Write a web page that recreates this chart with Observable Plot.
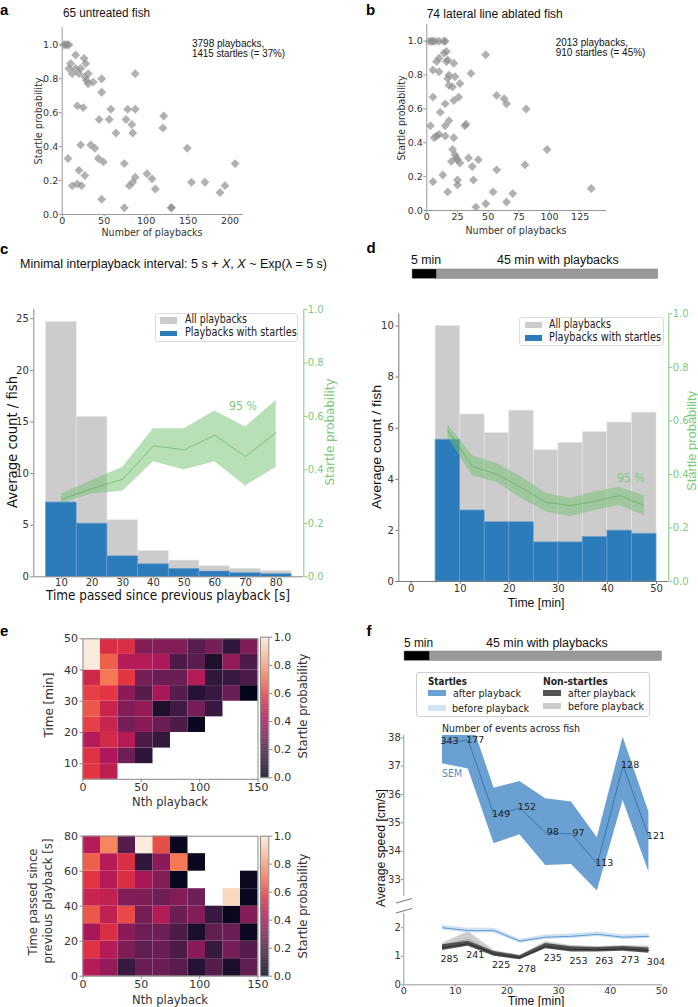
<!DOCTYPE html>
<html><head><meta charset="utf-8">
<script src="https://cdn.jsdelivr.net/npm/d3@7"></script>
<script src="https://cdn.jsdelivr.net/npm/@observablehq/plot@0.6"></script>
<style>
body{margin:0;background:#fff;}
#fig{position:relative;width:698px;height:1007px;overflow:hidden;background:#fff;}
#fig > svg{position:absolute;overflow:visible;}
.t{position:absolute;white-space:nowrap;line-height:1;transform-origin:0 0;}
.bx{position:absolute;box-sizing:border-box;}
</style></head><body><div id="fig"></div>
<script>
// ---------------- DATA ----------------
// a: untreated fish
const aPlaybacks = [2,4,6,8,7,8,10,12,12,16,16,18,18,20,20,22,22,23,25,26,27,27,28,29,31,31,34,37,39,43,44,47,47,47,49,56,58,64,74,74,76,78,80,83,84,84,87,87,87,101,107,111,120,121,130,130,149,154,170,188,194,206];
const aProb = [1,1,1,1,0.33,0.86,0.89,0.83,0.17,0.94,0.86,0.64,0.18,0.83,0.26,0.86,0.41,0.17,0.63,0.92,0.81,0.23,0.89,0.79,0.83,0.77,0.41,0.78,0.39,0.33,0.56,0.80,0.72,0.09,0.31,0.56,0.62,0.48,0.30,0.04,0.56,0.62,0.17,0.53,0.48,0.19,0.62,0.83,0.22,0.24,0.21,0.15,0.51,0.58,0.04,0.04,0.39,0.19,0.19,0.13,0.17,0.30];
// b: lateral line ablated fish
const bPlaybacks = [2,4,5,7,10,14,15,14,16,16,17,8,10,5,10,22,48,36,18,23,17,27,18,21,5,26,22,57,63,65,81,15,11,18,3,15,31,32,6,8,10,15,22,21,23,24,25,27,20,34,42,37,57,98,80,13,5,25,38,25,17,54,70,134,40,48,65];
const bProb = [1,1,1,1,1,1,1,0.93,0.94,0.88,0.89,0.88,0.90,0.83,0.82,0.87,0.92,0.81,0.80,0.79,0.78,0.75,0.74,0.73,0.67,0.67,0.65,0.68,0.66,0.63,0.60,0.63,0.58,0.53,0.50,0.50,0.50,0.51,0.43,0.44,0.45,0.44,0.43,0.36,0.33,0.31,0.30,0.28,0.29,0.31,0.30,0.26,0.24,0.36,0.27,0.21,0.17,0.18,0.18,0.15,0.11,0.11,0.10,0.13,0.02,0.04,0.05];
const probTicks = [0,0.2,0.4,0.6,0.8,1.0];
const aXTicks = [0,50,100,150,200];
const bXTicks = [0,25,50,75,100,125];
// c: time since previous playback
const cBinLo = [5,15,25,35,45,55,65,75];
const cBinHi = [15,25,35,45,55,65,75,85];
const cAll = [24.7,15.5,5.48,2.5,1.57,1.02,0.77,0.54];
const cStartle = [7.2,5.15,1.98,1.21,0.77,0.51,0.35,0.25];
const cCenter = [10,20,30,40,50,60,70,80];
const cProbMean = [0.29,0.33,0.365,0.49,0.475,0.53,0.45,0.54];
const cProbLo = [0.275,0.31,0.32,0.43,0.40,0.43,0.34,0.41];
const cProbHi = [0.31,0.36,0.41,0.554,0.554,0.62,0.56,0.66];
const cYTicks = [0,5,10,15,20,25];
const cXTicks = [10,20,30,40,50,60,70,80];
// d: time in experiment
const dBinLo = [5,10,15,20,25,30,35,40,45];
const dBinHi = [10,15,20,25,30,35,40,45,50];
const dAll = [10.0,6.54,5.81,6.69,5.14,5.43,5.85,6.22,6.61];
const dStartle = [5.55,2.78,2.32,2.32,1.53,1.53,1.74,1.99,1.87];
const dCenter = [7.5,12.5,17.5,22.5,27.5,32.5,37.5,42.5,47.5];
const dProbMean = [0.564,0.43,0.40,0.35,0.296,0.284,0.30,0.321,0.284];
const dProbLo = [0.54,0.395,0.37,0.31,0.26,0.243,0.265,0.284,0.246];
const dProbHi = [0.586,0.47,0.44,0.39,0.33,0.31,0.335,0.352,0.32];
const dYTicks = [0,2,4,6,8,10];
const dXTicks = [0,10,20,30,40,50];
// timeline
const timelineStart = [0,5];
const timelineEnd = [5,50];
const timelineColor = ["#000000","#999999"];
// e: heatmaps (rows bottom->top, columns = Nth playback bins)
const eNthLo = [0,15,30,45,60,75,90,105,120,135];
const eTimeLo = [5,10,15,20,25,30,35,40,45];
const eTimeValues = [
  [0.58,0.47,null,null,null,null,null,null,null,null],
  [0.57,0.43,0.28,0.12,null,null,null,null,null,null],
  [0.45,0.53,0.45,0.20,0.14,null,null,null,null,null],
  [0.60,0.50,0.30,0.35,0.27,0.20,0.02,null,null,null],
  [0.65,0.50,0.33,0.37,0.08,0.17,0.30,0.15,null,null],
  [0.60,0.58,0.35,0.22,0.42,0.22,0.10,0.15,0.27,0.00],
  [0.52,0.72,0.58,0.30,0.27,0.27,0.45,0.13,0.15,0.20],
  [1.00,0.67,0.45,0.45,0.43,0.20,0.23,0.08,0.37,0.20],
  [1.00,0.55,0.55,0.33,0.33,0.33,0.23,0.30,0.13,0.32]
];
const eGapLo = [0,10,20,30,40,50,60,70];
const eGapValues = [
  [0.45,0.37,0.15,0.27,0.27,0.23,0.10,0.22,0.07,0.25],
  [0.57,0.45,0.32,0.25,0.27,0.20,0.35,0.15,0.30,0.22],
  [0.42,0.55,0.35,0.28,0.28,0.20,0.07,0.25,0.27,0.03],
  [0.65,0.48,0.62,0.30,0.45,0.27,0.33,0.15,0.02,0.33],
  [0.50,0.48,0.33,0.32,0.28,0.33,0.28,null,0.95,0.02],
  [0.58,0.45,0.55,0.42,0.33,0.02,null,null,null,0.03],
  [0.67,0.45,0.55,0.13,0.35,0.72,0.02,null,null,null],
  [0.45,0.75,0.22,1.00,0.63,0.02,null,null,null,null]
];
const eNthTicks = [0,50,100,150];
const eTimeTicks = [10,20,30,40,50];
const eGapTicks = [0,20,40,60,80];
const cbTicks = [0,0.2,0.4,0.6,0.8,1.0];
// f: speed
const fTime = [7.5,12.5,17.5,22.5,27.5,32.5,37.5,42.5,47.5];
const fStartAfterMean = [37.85,37.9,35.26,35.52,34.64,34.61,33.55,37.02,34.5];
const fStartAfterLo = [37.08,36.9,34.26,34.58,33.49,33.53,32.59,35.79,33.26];
const fStartAfterHi = [38.6,38.9,36.22,36.46,35.85,35.73,34.47,38.02,35.38];
const fStartAfterN = [343,177,149,152,98,97,113,128,121];
const fStartBeforeMean = [2.0,1.9,1.9,1.53,1.67,1.7,1.77,1.67,1.7];
const fStartBeforeLo = [1.92,1.82,1.82,1.46,1.59,1.62,1.69,1.59,1.62];
const fStartBeforeHi = [2.08,1.98,1.98,1.60,1.75,1.78,1.85,1.75,1.78];
const fNonAfterMean = [1.3,1.44,1.09,0.95,1.35,1.24,1.23,1.26,1.2];
const fNonAfterLo = [1.2,1.35,1.0,0.88,1.26,1.15,1.15,1.18,1.11];
const fNonAfterHi = [1.4,1.53,1.17,1.02,1.45,1.33,1.31,1.34,1.29];
const fNonAfterN = [285,241,225,278,235,253,263,273,304];
const fNonBeforeMean = [1.38,1.6,1.12,0.97,1.42,1.3,1.26,1.3,1.28];
const fNonBeforeLo = [1.3,1.4,1.04,0.9,1.33,1.22,1.18,1.22,1.2];
const fNonBeforeHi = [1.46,1.86,1.2,1.04,1.51,1.38,1.34,1.38,1.36];
const fUpperTicks = [33,34,35,36,37,38];
const fLowerTicks = [0,1,2];
const fXTicks = [0,10,20,30,40,50];

// ---------------- HELPERS ----------------
const fig = document.getElementById("fig");
const put = (svg, left, top) => { svg.style.left = left + "px"; svg.style.top = top + "px"; fig.appendChild(svg); };
const ctx = document.createElement("canvas").getContext("2d");
function txt(html, x, y, o = {}) {
  const size = o.size || 11, fam = o.family || "DejaVu Sans";
  const el = document.createElement("div");
  el.className = "t";
  el.innerHTML = html;
  const font = `${o.style || "normal"} ${o.weight || "normal"} ${size}px ${fam}`;
  el.style.font = font;
  el.style.lineHeight = "1";
  el.style.color = o.color || "#222";
  el.style.left = x + "px"; el.style.top = y + "px";
  ctx.font = font;
  const m = ctx.measureText(el.textContent).width;
  const sx = o.width ? o.width / m : 1;
  const w = o.width || m;
  const frac = o.anchor === "middle" ? 0.5 : o.anchor === "end" ? 1 : 0;
  el.style.transform = `rotate(${o.rotate || 0}deg) translate(${-w * frac}px, ${-size / 2}px) scale(${sx},1)`;
  fig.appendChild(el);
}
function rect(x, y, w, h, css) {
  const el = document.createElement("div");
  el.className = "bx";
  el.style.left = x + "px"; el.style.top = y + "px"; el.style.width = w + "px"; el.style.height = h + "px";
  Object.assign(el.style, css);
  fig.appendChild(el);
}
const st = (size) => ({background: "transparent", fontFamily: "DejaVu Sans", fontSize: size + "px", color: "#333", overflow: "visible"});
const AX = "#999";
const GREEN = "#7dc97d";
const f1 = d3.format(".1f");
const fd = d3.format("d");
const rocket = d3.piecewise(d3.interpolateRgb, ["#03051a", "#35193e", "#701f57", "#ad1759", "#e13342", "#f37651", "#f6b48f", "#faebdd"]);

// ---------------- PANEL a ----------------
const aTable = aPlaybacks.map((n, i) => ({n, p: aProb[i]}));
put(Plot.plot({
  width: 260, height: 240, marginLeft: 61.7, marginRight: 17, marginTop: 27.3, marginBottom: 26,
  style: st(9.5), x: {domain: [0, 216]}, y: {domain: [0, 1.1]},
  marks: [
    Plot.dot(aTable, {x: "n", y: "p", symbol: "diamond2", r: 4, fill: "#8c8c8c", fillOpacity: 0.68, stroke: "none"}),
    Plot.ruleX([0], {stroke: AX}), Plot.ruleY([0], {stroke: AX}),
    Plot.axisX({ticks: aXTicks, tickSize: 2.5, tickPadding: 0, label: null, stroke: AX, fill: "#333"}),
    Plot.axisY({ticks: probTicks, tickFormat: f1, tickSize: 3, tickPadding: 1, label: null, stroke: AX, fill: "#333"})
  ]
}), 0, 0);
txt("a", 0, 8.5, {size: 15, family: "Liberation Sans", weight: "bold", color: "#000"});
txt("65 untreated fish", 63.3, 12.5, {size: 12, family: "Liberation Sans", color: "#111", width: 87});
txt("3798 playbacks,", 192, 44, {size: 10, family: "Liberation Sans", color: "#111"});
txt("1415 startles (= 37%)", 192, 54, {size: 10, family: "Liberation Sans", color: "#111", width: 93});
txt("Startle probability", 38, 120.5, {size: 11, anchor: "middle", rotate: -90, width: 87, color: "#333"});
txt("Number of playbacks", 152, 231.5, {size: 10.5, anchor: "middle", width: 101, color: "#333"});

// ---------------- PANEL b ----------------
const bTable = bPlaybacks.map((n, i) => ({n, p: bProb[i]}));
put(Plot.plot({
  width: 260, height: 240, marginLeft: 77.3, marginRight: 260 - 257.3, marginTop: 23.8, marginBottom: 30,
  style: st(9.5), x: {domain: [0, 146.7]}, y: {domain: [0, 1.1]},
  marks: [
    Plot.dot(bTable, {x: "n", y: "p", symbol: "diamond2", r: 4, fill: "#8c8c8c", fillOpacity: 0.68, stroke: "none"}),
    Plot.ruleX([0], {stroke: AX}), Plot.ruleY([0], {stroke: AX}),
    Plot.axisX({ticks: bXTicks, tickSize: 2.5, tickPadding: 0, label: null, stroke: AX, fill: "#333"}),
    Plot.axisY({ticks: probTicks, tickFormat: f1, tickSize: 3, tickPadding: 1, label: null, stroke: AX, fill: "#333"})
  ]
}), 349, 0);
txt("b", 366, 8.5, {size: 15, family: "Liberation Sans", weight: "bold", color: "#000"});
txt("74 lateral line ablated fish", 426.7, 13.8, {size: 12, family: "Liberation Sans", color: "#111"});
txt("2013 playbacks,", 555.7, 43.3, {size: 10, family: "Liberation Sans", color: "#111"});
txt("910 startles (= 45%)", 555.7, 53.3, {size: 10, family: "Liberation Sans", color: "#111"});
txt("Startle probability", 400.7, 117.5, {size: 11, anchor: "middle", rotate: -90, width: 85, color: "#333"});
txt("Number of playbacks", 516, 229.5, {size: 10.5, anchor: "middle", width: 101, color: "#333"});

// ---------------- PANEL c ----------------
const cTable = cBinLo.map((lo, i) => ({lo, hi: cBinHi[i], all: cAll[i], st: cStartle[i]}));
const cProb = cCenter.map((t, i) => ({t, m: cProbMean[i], lo: cProbLo[i], hi: cProbHi[i]}));
const cDims = {width: 345, height: 310, marginLeft: 33.3, marginRight: 41.7, marginTop: 19, marginBottom: 23.7};
put(Plot.plot({
  ...cDims, style: st(10), x: {domain: [1, 89]}, y: {domain: [0, 25.9]},
  marks: [
    Plot.rect(cTable, {x1: "lo", x2: "hi", y1: 0, y2: "all", fill: "#cccccc", stroke: "#e6e6e6", strokeWidth: 0.7}),
    Plot.rect(cTable, {x1: "lo", x2: "hi", y1: 0, y2: "st", fill: "#2c7bba", stroke: "#6a9fcc", strokeWidth: 0.7}),
    Plot.ruleX([1], {stroke: "#888"}), Plot.ruleY([0], {stroke: "#888"}),
    Plot.axisX({ticks: cXTicks, tickSize: 2.5, tickPadding: 0, label: null, stroke: "#888", fill: "#333"}),
    Plot.axisY({ticks: cYTicks, tickSize: 3, tickPadding: 2, label: null, stroke: "#888", fill: "#333"})
  ]
}), 0, 290);
put(Plot.plot({
  ...cDims, style: st(10), x: {domain: [1, 89], axis: null}, y: {domain: [0, 1]},
  marks: [
    Plot.areaY(cProb, {x: "t", y1: "lo", y2: "hi", fill: "#6fc16f", fillOpacity: 0.5}),
    Plot.lineY(cProb, {x: "t", y: "m", stroke: "#4fa64f", strokeOpacity: 0.7, strokeWidth: 0.8}),
    Plot.ruleX([89], {stroke: GREEN}),
    Plot.axisY({anchor: "right", ticks: probTicks, tickFormat: f1, tickSize: 3, tickPadding: 1, label: null, color: GREEN})
  ]
}), 0, 290);
txt("c", 0, 248.3, {size: 15, family: "Liberation Sans", weight: "bold", color: "#000"});
txt("Minimal interplayback interval: 5 s + <i>X</i>, <i>X</i> ~ Exp(λ = 5 s)", 20, 263.3, {size: 13, family: "Liberation Sans", color: "#111", width: 307});
txt("Average count / fish", 12, 442, {size: 14, anchor: "middle", rotate: -90, width: 132, color: "#111"});
txt("Startle probability", 329, 431.5, {size: 13, anchor: "middle", rotate: -90, width: 107, color: GREEN});
txt("Time passed since previous playback [s]", 168, 595.8, {size: 13.5, anchor: "middle", width: 244, color: "#111"});
txt("95 %", 243, 406, {size: 12, anchor: "middle", width: 28, color: GREEN});
rect(155, 313, 143, 29, {border: "1px solid #dcdcdc", borderRadius: "3px", background: "rgba(255,255,255,0.85)"});
rect(160, 317, 17, 6.5, {background: "#cccccc"});
rect(160, 330.5, 17, 5.5, {background: "#2c7bba"});
txt("All playbacks", 185, 320, {size: 11.5, color: "#222", width: 62});
txt("Playbacks with startles", 185, 333.3, {size: 11.5, color: "#222", width: 111.7});

// ---------------- PANEL d ----------------
const dTable = dBinLo.map((lo, i) => ({lo, hi: dBinHi[i], all: dAll[i], st: dStartle[i]}));
const dProb = dCenter.map((t, i) => ({t, m: dProbMean[i], lo: dProbLo[i], hi: dProbHi[i]}));
const dDims = {width: 349, height: 310, marginLeft: 49.3, marginRight: 29.7, marginTop: 18.3, marginBottom: 24};
put(Plot.plot({
  ...dDims, style: st(10), x: {domain: [-2.5, 52.5]}, y: {domain: [0, 10.48]},
  marks: [
    Plot.rect(dTable, {x1: "lo", x2: "hi", y1: 0, y2: "all", fill: "#cccccc", stroke: "#e6e6e6", strokeWidth: 0.7}),
    Plot.rect(dTable, {x1: "lo", x2: "hi", y1: 0, y2: "st", fill: "#2c7bba", stroke: "#6a9fcc", strokeWidth: 0.7}),
    Plot.ruleX([-2.5], {stroke: "#777"}), Plot.ruleY([0], {stroke: "#777"}),
    Plot.axisX({ticks: dXTicks, tickSize: 3, tickPadding: 0, label: null, stroke: "#777", fill: "#333"}),
    Plot.axisY({ticks: dYTicks, tickSize: 3, tickPadding: 2, label: null, stroke: "#777", fill: "#333"})
  ]
}), 349, 295);
put(Plot.plot({
  ...dDims, style: st(10), x: {domain: [-2.5, 52.5], axis: null}, y: {domain: [0, 1]},
  marks: [
    Plot.areaY(dProb, {x: "t", y1: "lo", y2: "hi", fill: "#6fc16f", fillOpacity: 0.5}),
    Plot.lineY(dProb, {x: "t", y: "m", stroke: "#4fa64f", strokeOpacity: 0.7, strokeWidth: 0.8}),
    Plot.ruleX([52.5], {stroke: GREEN}),
    Plot.axisY({anchor: "right", ticks: probTicks, tickFormat: f1, tickSize: 3, tickPadding: 1, label: null, color: GREEN})
  ]
}), 349, 295);
const timeline = timelineStart.map((s, i) => ({s, e: timelineEnd[i], c: timelineColor[i]}));
const tl = (w) => Plot.plot({
  width: w, height: 9.3, margin: 0, style: st(10), x: {domain: [0, 50], axis: null}, y: {axis: null}, color: {type: "identity"},
  marks: [Plot.rectX(timeline, {x1: "s", x2: "e", y1: 0, y2: 1, fill: "c", stroke: "#777", strokeWidth: 0.5})]
});
put(tl(245.6), 411.7, 269);
txt("d", 366.5, 246.7, {size: 15, family: "Liberation Sans", weight: "bold", color: "#000"});
txt("5 min", 410.7, 260, {size: 12.5, family: "Liberation Sans", color: "#111", width: 30});
txt("45 min with playbacks", 497.3, 260, {size: 12.5, family: "Liberation Sans", color: "#111", width: 121.7});
txt("Average count / fish", 375.7, 447, {size: 13, family: "Liberation Sans", anchor: "middle", rotate: -90, width: 124, color: "#111"});
txt("Startle probability", 691, 441, {size: 13, family: "Liberation Sans", anchor: "middle", rotate: -90, width: 100, color: GREEN});
txt("Time [min]", 535.7, 601.5, {size: 13, family: "Liberation Sans", anchor: "middle", width: 56.7, color: "#111"});
txt("95 %", 630.7, 478, {size: 12, anchor: "middle", width: 28, color: GREEN});
rect(519, 317.3, 145, 28.7, {border: "1px solid #dcdcdc", borderRadius: "3px", background: "rgba(255,255,255,0.85)"});
rect(524.7, 321.5, 17, 6.5, {background: "#cccccc"});
rect(524.7, 335, 17, 5.5, {background: "#2c7bba"});
txt("All playbacks", 549, 324.7, {size: 11.5, color: "#222", width: 62});
txt("Playbacks with startles", 549, 337.7, {size: 11.5, color: "#222", width: 112});

// ---------------- PANEL e ----------------
const eTopCells = [];
eTimeLo.forEach((t, r) => eNthLo.forEach((n, c) => { const v = eTimeValues[r][c]; if (v != null) eTopCells.push({n0: n, n1: n + 15, t0: t, t1: t + 5, v}); }));
const eBotCells = [];
eGapLo.forEach((t, r) => eNthLo.forEach((n, c) => { const v = eGapValues[r][c]; if (v != null) eBotCells.push({n0: n, n1: n + 15, t0: t, t1: t + 10, v}); }));
const colorScale = {type: "linear", domain: [0, 1], interpolate: () => rocket};
function heat(cells, yDomain, yTicks, top, mt, mb) {
  put(Plot.plot({
    width: 215, height: 160, marginLeft: 22.5, marginRight: 17.5, marginTop: mt, marginBottom: mb,
    style: st(11), x: {domain: [0, 150]}, y: {domain: yDomain}, color: {...colorScale},
    marks: [
      Plot.rect(cells, {x1: "n0", x2: "n1", y1: "t0", y2: "t1", fill: "v"}),
      Plot.frame({stroke: "#888"}),
      Plot.axisX({ticks: eNthTicks, tickSize: 3, tickPadding: 1, label: null, stroke: "#888", fill: "#333"}),
      Plot.axisY({ticks: yTicks, tickSize: 3, tickPadding: 2, label: null, stroke: "#888", fill: "#333"})
    ]
  }), 60, top);
}
heat(eTopCells, [5, 50], eTimeTicks, 630, 8.3, 11.2);
heat(eBotCells, [0, 80], eGapTicks, 828, 7.7, 12.3);
const cbSteps = d3.range(0, 1, 0.005);
function colorbar(top, y0, y1) {
  put(Plot.plot({
    width: 50, height: 160, marginLeft: 5, marginRight: 36.7, marginTop: y0 - top, marginBottom: 160 - (y1 - top),
    style: st(11), x: {domain: [0, 1], axis: null}, y: {domain: [0, 1]}, color: {...colorScale},
    marks: [
      Plot.rect(cbSteps, {x1: 0, x2: 1, y1: d => d, y2: d => d + 0.0055, fill: d => d + 0.0025}),
      Plot.frame({stroke: "#888"}),
      Plot.axisY({anchor: "right", ticks: cbTicks, tickFormat: f1, tickSize: 3, tickPadding: 2, label: null, stroke: "#888", fill: "#333"})
    ]
  }), 255, top);
}
colorbar(630, 636.7, 777.3);
colorbar(828, 835.7, 975.7);
txt("e", 0, 630, {size: 15, family: "Liberation Sans", weight: "bold", color: "#000"});
txt("Time [min]", 49, 704.5, {size: 12, anchor: "middle", rotate: -90, width: 65, color: "#333"});
txt("Nth playback", 170, 801.5, {size: 12, anchor: "middle", width: 76, color: "#333"});
txt("Startle probability", 302.7, 705.5, {size: 12, anchor: "middle", rotate: -90, width: 105, color: "#333"});
txt("Time passed since", 33, 901.7, {size: 12, anchor: "middle", rotate: -90, width: 107, color: "#333"});
txt("previous playback [s]", 48, 900.5, {size: 12, anchor: "middle", rotate: -90, width: 125, color: "#333"});
txt("Nth playback", 170, 999.5, {size: 12, anchor: "middle", width: 76, color: "#333"});
txt("Startle probability", 302.7, 905.7, {size: 12, anchor: "middle", rotate: -90, width: 105, color: "#333"});

// ---------------- PANEL f ----------------
const fData = fTime.map((t, i) => ({t,
  sam: fStartAfterMean[i], sal: fStartAfterLo[i], sah: fStartAfterHi[i], san: fStartAfterN[i],
  sbm: fStartBeforeMean[i], sbl: fStartBeforeLo[i], sbh: fStartBeforeHi[i],
  nam: fNonAfterMean[i], nal: fNonAfterLo[i], nah: fNonAfterHi[i], nan: fNonAfterN[i],
  nbm: fNonBeforeMean[i], nbl: fNonBeforeLo[i], nbh: fNonBeforeHi[i]}));
put(Plot.plot({
  width: 349, height: 175, marginLeft: 54.3, marginRight: 36.7, marginTop: 10, marginBottom: 4,
  style: st(10), x: {domain: [0, 50], axis: null}, y: {domain: [32.4, 38.08]},
  marks: [
    Plot.areaY(fData, {x: "t", y1: "sal", y2: "sah", fill: "#6aa0d2", clip: true}),
    Plot.lineY(fData, {x: "t", y: "sam", stroke: "#2e6ca6", strokeWidth: 0.8}),
    Plot.text(fData, {x: "t", y: "sam", text: "san", dx: 7, dy: -1, fontSize: 9.5, fill: "#222"}),
    Plot.ruleX([0], {stroke: AX}),
    Plot.axisY({ticks: fUpperTicks, tickFormat: fd, tickSize: 2.5, tickPadding: 0.5, label: null, stroke: AX, fill: "#333"})
  ]
}), 349, 725);
put(Plot.plot({
  width: 349, height: 102, marginLeft: 54.3, marginRight: 36.7, marginTop: 8, marginBottom: 22.7,
  style: st(9.5), x: {domain: [0, 50]}, y: {domain: [0, 2.5]},
  marks: [
    Plot.areaY(fData, {x: "t", y1: "nbl", y2: "nbh", fill: "#c8c8c8", fillOpacity: 0.9}),
    Plot.lineY(fData, {x: "t", y: "nbm", stroke: "#9a9a9a", strokeWidth: 0.8}),
    Plot.areaY(fData, {x: "t", y1: "nal", y2: "nah", fill: "#4a4a4a", fillOpacity: 0.95}),
    Plot.lineY(fData, {x: "t", y: "nam", stroke: "#222", strokeWidth: 0.8}),
    Plot.areaY(fData, {x: "t", y1: "sbl", y2: "sbh", fill: "#c9def2", fillOpacity: 0.9}),
    Plot.lineY(fData, {x: "t", y: "sbm", stroke: "#5d9bd6", strokeWidth: 1}),
    Plot.text(fData, {x: "t", y: "nam", text: "nan", dx: 7, dy: 11.5, fontSize: 9.5, fill: "#222"}),
    Plot.ruleX([0], {stroke: AX}), Plot.ruleY([0], {stroke: AX}),
    Plot.axisX({ticks: fXTicks, tickSize: 2, tickPadding: 0, label: null, stroke: AX, fill: "#333"}),
    Plot.axisY({ticks: fLowerTicks, tickFormat: fd, tickSize: 2.5, tickPadding: 0.5, label: null, stroke: AX, fill: "#333", fontSize: 10})
  ]
}), 349, 905);
put(tl(257.3), 404, 650.7);
// axis break marks
const brk = d3.create("svg").attr("width", 20).attr("height", 20);
brk.append("line").attr("x1", 1).attr("y1", 7).attr("x2", 17).attr("y2", 2.5).attr("stroke", "#666").attr("stroke-width", 0.9);
brk.append("line").attr("x1", 1).attr("y1", 17).attr("x2", 17).attr("y2", 12.5).attr("stroke", "#666").attr("stroke-width", 0.9);
put(brk.node(), 395, 895.5);
txt("f", 366.5, 630, {size: 15, family: "Liberation Sans", weight: "bold", color: "#000"});
txt("5 min", 404, 643.3, {size: 12.5, family: "Liberation Sans", color: "#111", width: 29});
txt("45 min with playbacks", 485.7, 643.3, {size: 12.5, family: "Liberation Sans", color: "#111", width: 121.7});
rect(415.7, 671.7, 234.3, 45.6, {border: "1px solid #cfcfcf", borderRadius: "3px", background: "#fff"});
txt("Startles", 428.3, 680.7, {size: 11, weight: "bold", color: "#222", width: 39});
rect(428.3, 690.3, 17.4, 6, {background: "#6aa0d2"});
txt("after playback", 453.3, 693.3, {size: 11, color: "#222", width: 68});
rect(428.3, 704.5, 17.4, 6, {background: "#d3e4f4"});
txt("before playback", 452, 707.7, {size: 11, color: "#222", width: 77});
txt("Non-startles", 543.3, 680.7, {size: 11, weight: "bold", color: "#222", width: 64.7});
rect(543.3, 690.3, 17.4, 6, {background: "#555555"});
txt("after playback", 568, 693.3, {size: 11, color: "#222", width: 67.7});
rect(543.3, 703, 17.4, 6, {background: "#cccccc"});
txt("before playback", 568, 706, {size: 11, color: "#222", width: 76});
txt("Number of events across fish", 442.3, 728.3, {size: 11, color: "#222", width: 138});
txt("SEM", 441.7, 773.3, {size: 11, color: "#4f8fc6", width: 20});
txt("Average speed [cm/s]", 379.5, 847.5, {size: 13, family: "Liberation Sans", anchor: "middle", rotate: -90, width: 118, color: "#111"});
txt("Time [min]", 535.7, 1001, {size: 12, family: "Liberation Sans", anchor: "middle", width: 56.7, color: "#111"});
</script></body></html>
